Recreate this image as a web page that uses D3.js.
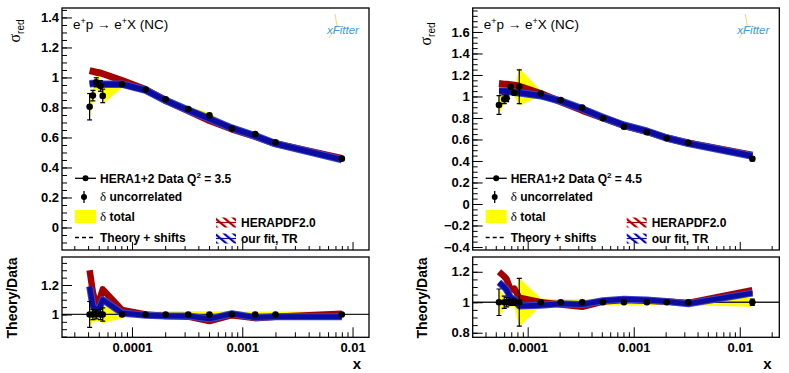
<!DOCTYPE html>
<html lang="en">
<head>
<meta charset="UTF-8">
<title>sigma_red e+p NC, Q2 = 3.5 and 4.5</title>
<script src="https://d3js.org/d3.v7.min.js"></script>
<style>
  body { margin: 0; background: #fff; }
  svg { display: block; }
  .tick text { font-family: "Liberation Sans", Arial, sans-serif; font-weight: bold; font-size: 13px; fill: #000; }
  .tick line { stroke: #000; stroke-width: 1; }
  .lg { font-family: "Liberation Sans", Arial, sans-serif; font-weight: bold; font-size: 12px; }
  .sym { font-family: "Liberation Serif", "DejaVu Serif", serif; font-weight: normal; }
</style>
</head>
<body>
<svg id="chart" width="789" height="373"></svg>
<script>
// ---- data, left panel (Q2 = 3.5) ----
const xLeft       = [4.13e-5, 4.42e-5, 4.74e-5, 5.18e-5, 5.43e-5, 8.13e-5, 1.33e-4, 2.02e-4, 3.24e-4, 5.04e-4, 8.05e-4, 1.31e-3, 2.0e-3, 8.0e-3];
const dataLeft    = [0.805, 0.879, 0.968, 0.943, 0.877, 0.955, 0.919, 0.855, 0.790, 0.747, 0.659, 0.623, 0.568, 0.459];
const uncLeft     = [0.088, 0.035, 0.030, 0.035, 0.045, 0.010, 0.006, 0.006, 0.006, 0.006, 0.006, 0.006, 0.006, 0.006];
const totLeft     = [0.090, 0.050, 0.050, 0.050, 0.060, 0.025, 0.022, 0.022, 0.022, 0.022, 0.022, 0.020, 0.020, 0.020];
const heraLeft    = [1.045, 1.040, 1.035, 1.030, 1.025, 0.980, 0.919, 0.846, 0.778, 0.713, 0.656, 0.607, 0.559, 0.461];
const ourLeft     = [0.958, 0.960, 0.960, 0.958, 0.955, 0.955, 0.915, 0.847, 0.782, 0.725, 0.662, 0.611, 0.559, 0.452];
const rHeraLeft   = [1.30, 1.15, 1.06, 1.12, 1.17, 1.03, 1.00, 0.99, 0.985, 0.955, 0.995, 0.975, 0.985, 1.005];
const rOurLeft    = [1.19, 1.06, 1.02, 1.06, 1.10, 1.01, 0.995, 0.99, 0.99, 0.97, 1.005, 0.98, 0.985, 0.985];

// ---- data, right panel (Q2 = 4.5) ----
const xRight      = [5.36e-5, 6.01e-5, 6.34e-5, 6.92e-5, 7.48e-5, 8.33e-5, 1.33e-4, 2.05e-4, 3.27e-4, 5.13e-4, 8.09e-4, 1.33e-3, 2.05e-3, 3.27e-3, 1.315e-2];
const dataRight   = [0.921, 0.974, 0.983, 1.091, 1.035, 1.091, 1.028, 0.967, 0.898, 0.797, 0.719, 0.667, 0.611, 0.570, 0.421];
const uncRight    = [0.087, 0.040, 0.030, 0.020, 0.020, 0.157, 0.006, 0.006, 0.006, 0.006, 0.006, 0.006, 0.006, 0.006, 0.020];
const totRight    = [0.090, 0.045, 0.040, 0.030, 0.030, 0.160, 0.025, 0.020, 0.020, 0.020, 0.020, 0.020, 0.020, 0.020, 0.030];
const heraRight   = [1.120, 1.115, 1.113, 1.110, 1.105, 1.095, 1.028, 0.952, 0.871, 0.801, 0.730, 0.674, 0.614, 0.567, 0.455];
const ourRight    = [1.050, 1.050, 1.048, 1.045, 1.040, 1.035, 1.007, 0.957, 0.885, 0.805, 0.733, 0.677, 0.614, 0.564, 0.446];
const rHeraRight  = [1.20, 1.17, 1.15, 1.08, 1.09, 1.03, 1.00, 0.985, 0.97, 1.005, 1.015, 1.01, 1.005, 0.995, 1.08];
const rOurRight   = [1.13, 1.10, 1.08, 1.03, 1.02, 0.975, 0.98, 0.99, 0.985, 1.01, 1.02, 1.015, 1.005, 0.99, 1.06];

// ---- ticks / labels ----
const xTickValues = [1e-4, 1e-3, 1e-2];
const xTickLabels = ["0.0001", "0.001", "0.01"];
const yTicksTopLeft   = [0, 0.2, 0.4, 0.6, 0.8, 1, 1.2, 1.4];
const yTicksTopRight  = [-0.4, -0.2, 0, 0.2, 0.4, 0.6, 0.8, 1, 1.2, 1.4, 1.6];
const yTicksRatioLeft = [1, 1.2];
const yTicksRatioRight= [0.8, 1, 1.2];
const q2Labels = ["3.5", "4.5"];

const svg = d3.select("#chart");
const defs = svg.append("defs");

// hatch patterns for the legend symbols
[["hatchRed", "#b00000"], ["hatchBlue", "#0a0aa8"]].forEach(([id, c]) => {
  const p = defs.append("pattern").attr("id", id).attr("patternUnits", "userSpaceOnUse")
    .attr("width", 6).attr("height", 6).attr("patternTransform", "rotate(-50)");
  p.append("rect").attr("width", 2.2).attr("height", 6).attr("fill", c);
});

const RED = "#a50000", BLUE = "#0c0ca0", YEL = "#ffff00";

function drawPanel(p, idx) {
  const g = svg.append("g");
  const x = d3.scaleLog().domain(p.xDom).range([p.x0, p.x1]);
  const yT = d3.scaleLinear().domain(p.yTopDom).range([250, 8]);
  const yR = d3.scaleLinear().domain(p.yRatDom).range([337.3, 257]);

  ["top", "rat"].forEach(k => {
    defs.append("clipPath").attr("id", `clip${k}${idx}`).append("rect")
      .attr("x", p.x0).attr("width", p.x1 - p.x0)
      .attr("y", k === "top" ? 8 : 257).attr("height", k === "top" ? 242 : 80.3);
  });

  const pts = p.xs.map((xv, i) => ({ x: xv, v: p.data[i], unc: p.unc[i], tot: p.tot[i],
    h: p.hera[i], o: p.our[i], rh: p.rHera[i], ro: p.rOur[i] }));

  // ---------- top panel ----------
  const top = g.append("g").attr("clip-path", `url(#cliptop${idx})`);
  top.append("path").datum(pts).attr("fill", YEL)
    .attr("d", d3.area().x(d => x(d.x)).y0(d => yT(d.v * (1 - d.tot))).y1(d => yT(d.v * (1 + d.tot))));
  top.append("path").datum(pts).attr("fill", "none").attr("stroke", RED).attr("stroke-width", 7)
    .attr("stroke-linejoin", "round").attr("d", d3.line().x(d => x(d.x)).y(d => yT(d.h)));
  top.append("path").datum(pts).attr("fill", "none").attr("stroke", "#3a46c8").attr("stroke-width", 7.5)
    .attr("stroke-linejoin", "round").attr("d", d3.line().x(d => x(d.x)).y(d => yT(d.o)));
  top.append("path").datum(pts).attr("fill", "none").attr("stroke", BLUE).attr("stroke-width", 5.5)
    .attr("stroke-linejoin", "round").attr("d", d3.line().x(d => x(d.x)).y(d => yT(d.o)));

  const dp = top.selectAll("g.pt").data(pts).join("g");
  dp.append("line").attr("x1", d => x(d.x)).attr("x2", d => x(d.x))
    .attr("y1", d => yT(d.v + d.unc)).attr("y2", d => yT(d.v - d.unc)).attr("stroke", "#000").attr("stroke-width", 1.2);
  [1, -1].forEach(s => dp.append("line").attr("x1", d => x(d.x) - 2.5).attr("x2", d => x(d.x) + 2.5)
    .attr("y1", d => yT(d.v + s * d.unc)).attr("y2", d => yT(d.v + s * d.unc)).attr("stroke", "#000").attr("stroke-width", 1.2));
  dp.append("circle").attr("cx", d => x(d.x)).attr("cy", d => yT(d.v)).attr("r", 3.3).attr("fill", "#000");

  // ---------- ratio panel ----------
  const rat = g.append("g").attr("clip-path", `url(#cliprat${idx})`);
  rat.append("path").datum(pts).attr("fill", YEL)
    .attr("d", d3.area().x(d => x(d.x)).y0(d => yR(1 - d.tot)).y1(d => yR(1 + d.tot)));
  rat.append("line").attr("x1", p.x0).attr("x2", p.x1).attr("y1", yR(1)).attr("y2", yR(1))
    .attr("stroke", "#222").attr("stroke-width", 1.3);
  rat.append("path").datum(pts).attr("fill", "none").attr("stroke", RED).attr("stroke-width", 6.5)
    .attr("stroke-linejoin", "round").attr("d", d3.line().x(d => x(d.x)).y(d => yR(d.rh)));
  rat.append("path").datum(pts).attr("fill", "none").attr("stroke", "#3a46c8").attr("stroke-width", 7)
    .attr("stroke-linejoin", "round").attr("d", d3.line().x(d => x(d.x)).y(d => yR(d.ro)));
  rat.append("path").datum(pts).attr("fill", "none").attr("stroke", BLUE).attr("stroke-width", 5)
    .attr("stroke-linejoin", "round").attr("d", d3.line().x(d => x(d.x)).y(d => yR(d.ro)));
  const rp = rat.selectAll("g.pt").data(pts).join("g");
  rp.append("line").attr("x1", d => x(d.x)).attr("x2", d => x(d.x))
    .attr("y1", d => yR(1 + d.unc)).attr("y2", d => yR(1 - d.unc)).attr("stroke", "#000").attr("stroke-width", 1.2);
  [1, -1].forEach(s => rp.append("line").attr("x1", d => x(d.x) - 2.5).attr("x2", d => x(d.x) + 2.5)
    .attr("y1", d => yR(1 + s * d.unc)).attr("y2", d => yR(1 + s * d.unc)).attr("stroke", "#000").attr("stroke-width", 1.2));
  rp.append("circle").attr("cx", d => x(d.x)).attr("cy", yR(1)).attr("r", 3.3).attr("fill", "#000");

  // ---------- axes ----------
  const minorX = [];
  for (let e = -5; e <= -1; e++) for (let m = 2; m <= 9; m++) {
    const v = m * Math.pow(10, e);
    if (v > p.xDom[0] && v < p.xDom[1]) minorX.push(v);
  }
  function minorY(dom) {
    const out = [];
    for (let v = Math.ceil(dom[0] / 0.05) * 0.05; v <= dom[1]; v += 0.05) out.push(+v.toFixed(3));
    return out;
  }
  const fmt = v => (Math.abs(v) < 1e-9 ? "0" : d3.format("~g")(v));

  // top panel: y axis
  g.append("g").attr("transform", `translate(${p.x0},0)`)
    .call(d3.axisLeft(yT).tickValues(minorY(p.yTopDom)).tickSize(-5).tickFormat(""));
  g.append("g").attr("transform", `translate(${p.x0},0)`)
    .call(d3.axisLeft(yT).tickValues(p.yTicksTop).tickSize(-10).tickPadding(3).tickFormat(fmt));
  // top panel: x ticks, no labels
  g.append("g").attr("transform", "translate(0,250)")
    .call(d3.axisBottom(x).tickValues(minorX).tickSize(-4).tickFormat(""));
  g.append("g").attr("transform", "translate(0,250)")
    .call(d3.axisBottom(x).tickValues(xTickValues).tickSize(-8).tickFormat(""));
  // ratio panel axes
  g.append("g").attr("transform", `translate(${p.x0},0)`)
    .call(d3.axisLeft(yR).tickValues(minorY(p.yRatDom)).tickSize(-5).tickFormat(""));
  g.append("g").attr("transform", `translate(${p.x0},0)`)
    .call(d3.axisLeft(yR).tickValues(p.yTicksRat).tickSize(-10).tickPadding(3).tickFormat(fmt));
  g.append("g").attr("transform", "translate(0,337.3)")
    .call(d3.axisBottom(x).tickValues(minorX).tickSize(-5).tickFormat(""));
  g.append("g").attr("transform", "translate(0,337.3)")
    .call(d3.axisBottom(x).tickValues(xTickValues).tickSize(-10).tickPadding(5)
      .tickFormat((d, i) => xTickLabels[i]));
  g.selectAll(".domain").remove();

  // frames
  g.append("rect").attr("x", p.x0).attr("y", 8).attr("width", p.x1 - p.x0).attr("height", 242)
    .attr("fill", "none").attr("stroke", "#000").attr("stroke-width", 1.3);
  g.append("rect").attr("x", p.x0).attr("y", 257).attr("width", p.x1 - p.x0).attr("height", 80.3)
    .attr("fill", "none").attr("stroke", "#000").attr("stroke-width", 1.3);

  // ---------- texts ----------
  const tt = g.append("text").attr("x", p.x0 + 11).attr("y", 29)
    .style("font-family", "'Liberation Sans', Arial, sans-serif").style("font-size", "13.5px");
  tt.append("tspan").text("e");
  tt.append("tspan").attr("dy", -5).style("font-size", "9px").text("+");
  tt.append("tspan").attr("dy", 5).text("p \u2192 e");
  tt.append("tspan").attr("dy", -5).style("font-size", "9px").text("+");
  tt.append("tspan").attr("dy", 5).text("X (NC)");

  const sl = g.append("text").attr("transform", `translate(${p.x0 - 42},${idx ? 34 : 31}) rotate(-90)`)
    .attr("text-anchor", "middle");
  sl.append("tspan").attr("class", "sym").style("font-size", "16px").text("\u03c3");
  sl.append("tspan").attr("dy", 4).style("font-family", "'Liberation Sans', Arial, sans-serif")
    .style("font-size", "10px").text("red");

  g.append("text").attr("transform", `translate(${p.x0 - (idx ? 46 : 45)},298) rotate(-90)`)
    .attr("text-anchor", "middle").attr("class", "lg").style("font-size", "14px").text("Theory/Data");
  g.append("text").attr("x", p.x1 - 12).attr("y", 369).attr("text-anchor", "middle")
    .attr("class", "lg").style("font-size", "15px").text("x");

  // xFitter logo
  const lx = p.x1 - 42, ly = 24;
  g.append("path").attr("d", `M${lx + 8},${ly - 10} L${lx + 10},${ly + 2} L${lx + 22},${ly + 4} M${lx + 10},${ly + 2} L${lx + 2},${ly + 14}`)
    .attr("fill", "none").attr("stroke", "#f4d86a").attr("stroke-width", 1);
  g.append("text").attr("x", lx).attr("y", ly + 10).style("font-family", "'Liberation Sans', Arial, sans-serif")
    .style("font-style", "italic").style("font-size", "11.5px").attr("fill", "#3a9be0").text("xFitter");

  // ---------- legend ----------
  const L = p.x0 + 13, tx = p.x0 + 38;
  g.append("line").attr("x1", L).attr("x2", L + 21).attr("y1", 178.3).attr("y2", 178.3).attr("stroke", "#000").attr("stroke-width", 1.3);
  g.append("circle").attr("cx", L + 10.5).attr("cy", 178.3).attr("r", 3).attr("fill", "#000");
  const t1 = g.append("text").attr("class", "lg").attr("x", tx).attr("y", 182.5);
  t1.append("tspan").text("HERA1+2 Data Q");
  t1.append("tspan").attr("dy", -5).style("font-size", "8px").text("2");
  t1.append("tspan").attr("dy", 5).text(" = " + q2Labels[idx]);

  g.append("line").attr("x1", L + 9).attr("x2", L + 9).attr("y1", 191).attr("y2", 203).attr("stroke", "#000").attr("stroke-width", 1.3);
  g.append("circle").attr("cx", L + 9).attr("cy", 197).attr("r", 3).attr("fill", "#000");
  const t2 = g.append("text").attr("class", "lg").attr("x", tx).attr("y", 201);
  t2.append("tspan").attr("class", "sym").style("font-size", "13px").text("\u03b4");
  t2.append("tspan").text(" uncorrelated");

  g.append("rect").attr("x", L).attr("y", 210).attr("width", 21).attr("height", 13).attr("fill", YEL);
  const t3 = g.append("text").attr("class", "lg").attr("x", tx).attr("y", 221);
  t3.append("tspan").attr("class", "sym").style("font-size", "13px").text("\u03b4");
  t3.append("tspan").text(" total");

  g.append("line").attr("x1", L).attr("x2", L + 21).attr("y1", 237.5).attr("y2", 237.5)
    .attr("stroke", "#000").attr("stroke-width", 1.6).attr("stroke-dasharray", "4,3");
  g.append("text").attr("class", "lg").attr("x", tx).attr("y", 241.5).text("Theory + shifts");

  const hx = p.x0 + 154;
  [["hatchRed", RED, 222.5, "HERAPDF2.0"], ["hatchBlue", BLUE, 238.5, "our fit, TR"]].forEach(([pat, c, cy, lab]) => {
    g.append("rect").attr("x", hx).attr("y", cy - 5).attr("width", 20).attr("height", 10).attr("fill", `url(#${pat})`);
    g.append("line").attr("x1", hx).attr("x2", hx + 20).attr("y1", cy).attr("y2", cy).attr("stroke", c).attr("stroke-width", 1.2);
    g.append("text").attr("class", "lg").attr("x", hx + 25).attr("y", cy + 4).text(lab);
  });
}

drawPanel({ x0: 62, x1: 369, xDom: [2.32e-5, 0.0141], yTopDom: [-0.15, 1.463], yRatDom: [0.845, 1.39],
  xs: xLeft, data: dataLeft, unc: uncLeft, tot: totLeft, hera: heraLeft, our: ourLeft,
  rHera: rHeraLeft, rOur: rOurLeft, yTicksTop: yTicksTopLeft, yTicksRat: yTicksRatioLeft }, 0);

drawPanel({ x0: 472.7, x1: 779.3, xDom: [3.03e-5, 0.0236], yTopDom: [-0.428, 1.823], yRatDom: [0.77, 1.297],
  xs: xRight, data: dataRight, unc: uncRight, tot: totRight, hera: heraRight, our: ourRight,
  rHera: rHeraRight, rOur: rOurRight, yTicksTop: yTicksTopRight, yTicksRat: yTicksRatioRight }, 1);
</script>
</body>
</html>
